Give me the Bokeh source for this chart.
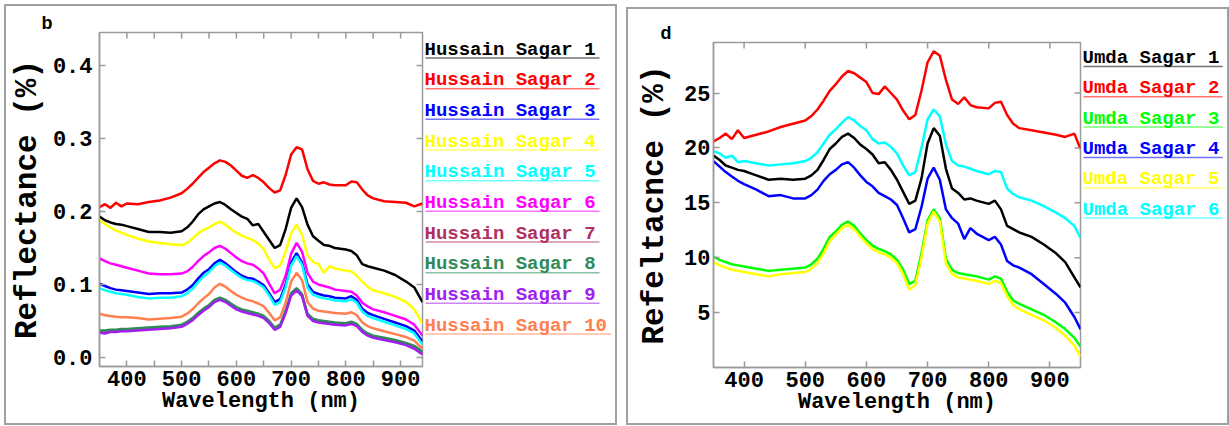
from bokeh.plotting import figure
from bokeh.models import Range1d, FixedTicker, PrintfTickFormatter
from bokeh.layouts import row
from bokeh.core.properties import value
from bokeh.embed import file_html
from bokeh.resources import INLINE

# ---------------- panel b : Hussain Sagar ----------------
WL_B = [350, 360, 370, 380, 390, 400, 420, 440, 460, 480,
        500, 510, 520, 530, 540, 550, 560, 570, 580, 590,
        600, 610, 620, 630, 640, 650, 660, 670, 680, 690,
        700, 710, 720, 730, 740, 750, 760, 770, 780,
        800, 810, 820, 830, 840, 850,
        870, 890, 910, 925, 940]

HS1 = [.193, .188, .185, .183, .182, .180, .176, .172, .172, .171,
       .173, .178, .186, .196, .203, .207, .211, .213, .209, .203,
       .198, .193, .190, .181, .183, .172, .161, .150, .154, .176,
       .205, .218, .206, .182, .166, .160, .154, .153, .150,
       .148, .146, .140, .128, .125, .123,
       .119, .113, .104, .096, .076]
HS2 = [.206, .210, .205, .212, .207, .211, .210, .213, .215, .219,
       .225, .231, .238, .246, .254, .260, .266, .270, .268, .263,
       .256, .249, .246, .250, .246, .240, .232, .226, .229, .250,
       .278, .288, .285, .258, .242, .238, .240, .237, .236,
       .236, .241, .240, .230, .222, .218,
       .214, .213, .212, .207, .211]
HS3 = [.101, .098, .095, .093, .092, .091, .089, .087, .088, .088,
       .089, .093, .099, .108, .116, .121, .129, .134, .129, .123,
       .117, .112, .109, .108, .104, .099, .088, .076, .080, .100,
       .130, .143, .130, .100, .090, .087, .085, .084, .082,
       .081, .084, .079, .067, .061, .058,
       .053, .048, .043, .037, .022]
HS4 = [.188, .183, .178, .174, .171, .168, .163, .159, .157, .155,
       .154, .157, .163, .170, .175, .178, .183, .186, .182, .176,
       .171, .167, .164, .161, .156, .148, .134, .122, .126, .145,
       .170, .182, .168, .140, .131, .128, .116, .125, .122,
       .119, .118, .112, .104, .097, .092,
       .088, .083, .076, .066, .046]
HS5 = [.095, .092, .090, .088, .087, .086, .083, .081, .082, .082,
       .084, .088, .094, .103, .111, .117, .125, .130, .126, .120,
       .114, .109, .106, .105, .101, .096, .085, .072, .076, .096,
       .126, .139, .127, .096, .086, .083, .081, .080, .078,
       .077, .080, .075, .063, .057, .054,
       .049, .044, .039, .033, .018]
HS6 = [.136, .132, .129, .127, .125, .123, .119, .115, .114, .114,
       .115, .118, .124, .132, .139, .144, .150, .153, .149, .143,
       .137, .132, .129, .127, .122, .115, .101, .088, .093, .112,
       .142, .157, .145, .116, .104, .100, .098, .096, .093,
       .091, .090, .085, .075, .070, .066,
       .062, .057, .052, .045, .030]
HS7 = [.035, .035, .036, .036, .037, .037, .038, .039, .040, .041,
       .043, .047, .052, .059, .065, .070, .077, .080, .077, .072,
       .067, .064, .062, .060, .058, .055, .048, .039, .043, .062,
       .086, .093, .085, .058, .051, .049, .048, .047, .046,
       .045, .047, .044, .036, .031, .028,
       .025, .022, .018, .014, .006]
HS8 = [.037, .037, .038, .038, .039, .039, .040, .041, .042, .043,
       .045, .049, .054, .061, .067, .072, .079, .082, .079, .074,
       .069, .066, .064, .062, .060, .057, .050, .041, .045, .064,
       .088, .095, .087, .060, .053, .051, .050, .049, .048,
       .047, .049, .046, .038, .033, .030,
       .027, .024, .020, .016, .008]
HS9 = [.034, .033, .035, .035, .036, .036, .037, .038, .039, .040,
       .042, .046, .051, .058, .064, .069, .076, .079, .076, .071,
       .066, .063, .061, .059, .057, .054, .047, .038, .042, .061,
       .085, .092, .084, .057, .050, .048, .047, .046, .045,
       .044, .046, .043, .035, .030, .027,
       .024, .021, .017, .012, .004]
HS10 = [.060, .058, .057, .056, .055, .055, .054, .052, .053, .054,
        .056, .060, .066, .074, .081, .087, .096, .101, .097, .091,
        .086, .082, .079, .077, .074, .070, .061, .051, .055, .075,
        .104, .116, .106, .076, .067, .064, .063, .062, .061,
        .060, .062, .058, .048, .043, .040,
        .036, .032, .028, .023, .012]

HS_SERIES = [HS1, HS2, HS3, HS4, HS5, HS6, HS7, HS8, HS9, HS10]
HS_NAMES = ["Hussain Sagar 1", "Hussain Sagar 2", "Hussain Sagar 3", "Hussain Sagar 4",
            "Hussain Sagar 5", "Hussain Sagar 6", "Hussain Sagar 7", "Hussain Sagar 8",
            "Hussain Sagar 9", "Hussain Sagar 10"]
HS_COLORS = ["#000000", "#ff0000", "#0000ff", "#ffff00", "#00ffff",
             "#ff00ff", "#b03060", "#2e8b57", "#a020f0", "#ff7f50"]
B_YTICKS = [0.0, 0.1, 0.2, 0.3, 0.4]
B_XMINOR = [450, 550, 650, 750, 850]

# ---------------- panel d : Umda Sagar ----------------
WL_D = [350, 360, 370, 380, 390, 400, 420, 440, 460, 480,
        500, 510, 520, 530, 540, 550, 560, 570, 580, 590,
        600, 610, 620, 630, 640, 650, 660, 670, 680, 690,
        700, 710, 720, 730, 740, 750, 760, 770, 780,
        800, 810, 820, 830, 840, 850,
        870, 890, 910, 925, 940, 950]

U1 = [19.3, 18.9, 18.4, 18.2, 18.0, 17.9, 17.5, 17.1, 17.2, 17.1,
      17.2, 17.5, 18.0, 18.9, 19.9, 20.4, 21.0, 21.3, 20.9, 20.3,
      19.9, 19.4, 18.6, 18.7, 18.0, 17.1, 16.0, 14.9, 15.2, 17.2,
      20.4, 21.8, 21.1, 18.1, 16.3, 15.9, 15.3, 15.4, 15.2,
      14.9, 15.2, 14.4, 12.9, 12.6, 12.3,
      11.9, 11.2, 10.4, 9.6, 8.2, 7.3]
U2 = [20.6, 20.9, 21.3, 20.8, 21.6, 20.9, 21.2, 21.5, 21.9, 22.2,
      22.5, 22.9, 23.5, 24.3, 25.2, 25.8, 26.5, 27.0, 26.8, 26.4,
      26.0, 25.0, 24.9, 25.6, 25.0, 24.4, 23.4, 22.6, 23.0, 25.2,
      27.8, 28.8, 28.4, 26.2, 24.4, 24.0, 24.6, 23.9, 23.7,
      23.6, 24.1, 24.2, 23.0, 22.2, 21.8,
      21.6, 21.4, 21.2, 21.0, 21.3, 19.9]
U3 = [10.1, 9.8, 9.6, 9.4, 9.3, 9.2, 9.0, 8.8, 8.9, 9.0,
      9.1, 9.4, 9.9, 10.8, 11.9, 12.4, 13.0, 13.3, 12.9, 12.2,
      11.6, 11.1, 10.8, 10.6, 10.3, 9.8, 8.9, 7.6, 7.9, 10.4,
      13.4, 14.4, 13.6, 9.9, 8.9, 8.6, 8.5, 8.4, 8.3,
      8.0, 8.3, 8.1, 6.9, 6.1, 5.8,
      5.3, 4.8, 4.1, 3.5, 2.7, 1.9]
U4 = [18.8, 18.3, 17.8, 17.4, 17.0, 16.7, 16.2, 15.6, 15.7, 15.4,
      15.4, 15.7, 16.2, 17.0, 17.6, 18.0, 18.5, 18.7, 18.2, 17.5,
      16.9, 16.5, 15.9, 15.6, 15.3, 14.8, 13.6, 12.3, 12.6, 14.6,
      17.2, 18.2, 17.1, 14.4, 13.6, 13.1, 11.7, 12.7, 12.2,
      11.6, 11.9, 11.2, 9.7, 9.3, 9.1,
      8.5, 7.6, 6.7, 5.9, 4.6, 3.5]
U5 = [9.6, 9.3, 9.1, 8.9, 8.8, 8.7, 8.5, 8.3, 8.5, 8.6,
      8.7, 9.0, 9.5, 10.4, 11.5, 12.1, 12.7, 13.0, 12.6, 11.9,
      11.3, 10.8, 10.5, 10.3, 10.0, 9.5, 8.5, 7.1, 7.5, 10.0,
      13.1, 14.2, 13.3, 9.5, 8.5, 8.2, 8.1, 8.0, 7.9,
      7.6, 7.9, 7.7, 6.5, 5.7, 5.3,
      4.8, 4.3, 3.6, 2.9, 2.0, 1.0]
U6 = [19.7, 19.5, 19.1, 19.3, 18.7, 18.8, 18.6, 18.4, 18.5, 18.6,
      18.8, 19.1, 19.6, 20.4, 21.2, 21.7, 22.3, 22.8, 22.5, 22.0,
      21.6, 20.8, 20.4, 20.5, 20.1, 19.5, 18.4, 17.5, 17.8, 20.0,
      22.6, 23.5, 22.9, 20.3, 18.8, 18.4, 18.3, 18.1, 17.9,
      17.6, 17.9, 17.8, 16.3, 15.8, 15.5,
      15.2, 14.7, 14.1, 13.6, 12.9, 11.8]

U_SERIES = [U1, U2, U3, U4, U5, U6]
U_NAMES = ["Umda Sagar 1", "Umda Sagar 2", "Umda Sagar 3",
           "Umda Sagar 4", "Umda Sagar 5", "Umda Sagar 6"]
U_COLORS = ["#000000", "#ff0000", "#00ff00", "#0000ff", "#ffff00", "#00ffff"]
D_YTICKS = [5, 10, 15, 20, 25]
D_XMINOR = []

X_TICKS = [400, 500, 600, 700, 800, 900]

FRAME = "#9a9a9a"
MONO = "Liberation Mono"
MONO_V = value(MONO)
BOX = {"border": "2px solid #a0a0a0"}


def style_axis(ax):
    ax.axis_line_color = FRAME
    ax.axis_line_width = 1.5
    ax.major_tick_line_color = FRAME
    ax.minor_tick_line_color = FRAME
    ax.major_tick_line_width = 1.5
    ax.minor_tick_line_width = 1.5
    ax.major_tick_in = 6
    ax.major_tick_out = 0
    ax.minor_tick_in = 6
    ax.minor_tick_out = 0
    ax.major_label_text_font = MONO
    ax.major_label_text_font_style = "bold"
    ax.major_label_text_color = "black"
    ax.major_label_text_font_size = "22px"
    ax.axis_label_text_font = MONO
    ax.axis_label_text_font_style = "bold"
    ax.axis_label_text_color = "black"


def main_fig(width, height, xr, yr, mb, wl, series, colors, yticks, minor,
             ylabel, yfmt, ylab_standoff, ytick_standoff, tag, tag_offset):
    left, right, top, bottom = mb
    p = figure(width=width, height=height, x_range=Range1d(*xr), y_range=Range1d(*yr),
               output_backend="svg", toolbar_location=None,
               min_border_left=left, min_border_right=right,
               min_border_top=top, min_border_bottom=bottom,
               background_fill_color="white", border_fill_color="white")
    p.grid.visible = False
    p.outline_line_color = FRAME
    p.outline_line_width = 1.5

    p.title.text = tag
    p.title.align = "left"
    p.title.offset = tag_offset
    p.title.standoff = 0
    p.title.text_font = "Liberation Sans"
    p.title.text_font_style = "bold"
    p.title.text_font_size = "18px"
    p.title.text_color = "black"

    for ys, c in zip(series, colors):
        p.line(wl, ys, line_color=c, line_width=2.5)

    # inward ticks mirrored on the top and right edges of the frame
    fw = width - left - right
    fh = height - top - bottom
    tx = X_TICKS + minor
    ty = list(yticks)
    tlen_y = 6 * (yr[1] - yr[0]) / fh
    tlen_x = 6 * (xr[1] - xr[0]) / fw
    p.segment(x0=tx, y0=[yr[1]] * len(tx), x1=tx, y1=[yr[1] - tlen_y] * len(tx),
              line_color=FRAME, line_width=1.5)
    p.segment(x0=[xr[1]] * len(ty), y0=ty, x1=[xr[1] - tlen_x] * len(ty), y1=ty,
              line_color=FRAME, line_width=1.5)

    xa = p.xaxis[0]
    xa.ticker = FixedTicker(ticks=X_TICKS, minor_ticks=minor)
    style_axis(xa)
    xa.axis_label = "Wavelength (nm)"
    xa.axis_label_text_font_size = "22px"
    xa.major_label_standoff = 4
    xa.axis_label_standoff = 0

    ya = p.yaxis[0]
    ya.ticker = FixedTicker(ticks=yticks)
    if yfmt:
        ya.formatter = PrintfTickFormatter(format=yfmt)
    style_axis(ya)
    ya.axis_label = ylabel
    ya.axis_label_text_font_size = "31px"
    ya.major_label_standoff = ytick_standoff
    ya.axis_label_standoff = ylab_standoff
    return p


def legend_fig(width, height, mb, names, colors, y0, step):
    # its frame is aligned with the main frame; coordinates are pixels from the frame top
    top, bottom = mb
    fh = height - top - bottom
    p = figure(width=width, height=height, x_range=Range1d(0, width),
               y_range=Range1d(fh, 0), output_backend="svg",
               toolbar_location=None, x_axis_type=None, y_axis_type=None,
               min_border_left=0, min_border_right=0,
               min_border_top=top, min_border_bottom=bottom,
               background_fill_color="white", border_fill_color="white")
    p.grid.visible = False
    p.outline_line_color = None
    ys = [y0 + i * step for i in range(len(names))]
    ends = [1 + len(n) * 11.6 for n in names]
    p.segment(x0=[1] * len(names), y0=[y + 8.5 for y in ys], x1=ends,
              y1=[y + 8.5 for y in ys], line_color=colors, line_width=1.5, line_alpha=0.55)
    p.text(x=[0] * len(names), y=ys, text=names, text_color=colors,
           text_font=MONO_V, text_font_style="bold", text_font_size="19px",
           text_baseline="middle", text_align="left")
    return p


pb = main_fig(418, 417, (350, 940), (-0.0123, 0.4452), (89, 2, 26, 57),
              WL_B, HS_SERIES, HS_COLORS, B_YTICKS, B_XMINOR,
              "Reflectance (%)", "%.1f", 5, 7, "b", -58)
lb = legend_fig(191, 417, (26, 57), HS_NAMES, HS_COLORS, 17, 30.67)
panel_b = row(pb, lb, spacing=0, styles=BOX, margin=(4, 0, 0, 4))

pd = main_fig(454, 414, (350, 950), (0, 29.6), (85, 2, 33, 56),
              WL_D, U_SERIES, U_COLORS, D_YTICKS, D_XMINOR,
              "Refeltacnce (%)", None, 9, 3, "d", -53)
ld = legend_fig(145, 414, (33, 56), U_NAMES, U_COLORS, 15.5, 30.3)
panel_d = row(pd, ld, spacing=0, styles=BOX, margin=(7, 0, 0, 9))

layout = row(panel_b, panel_d, spacing=0)
open("out.html", "w").write(file_html(layout, INLINE))
